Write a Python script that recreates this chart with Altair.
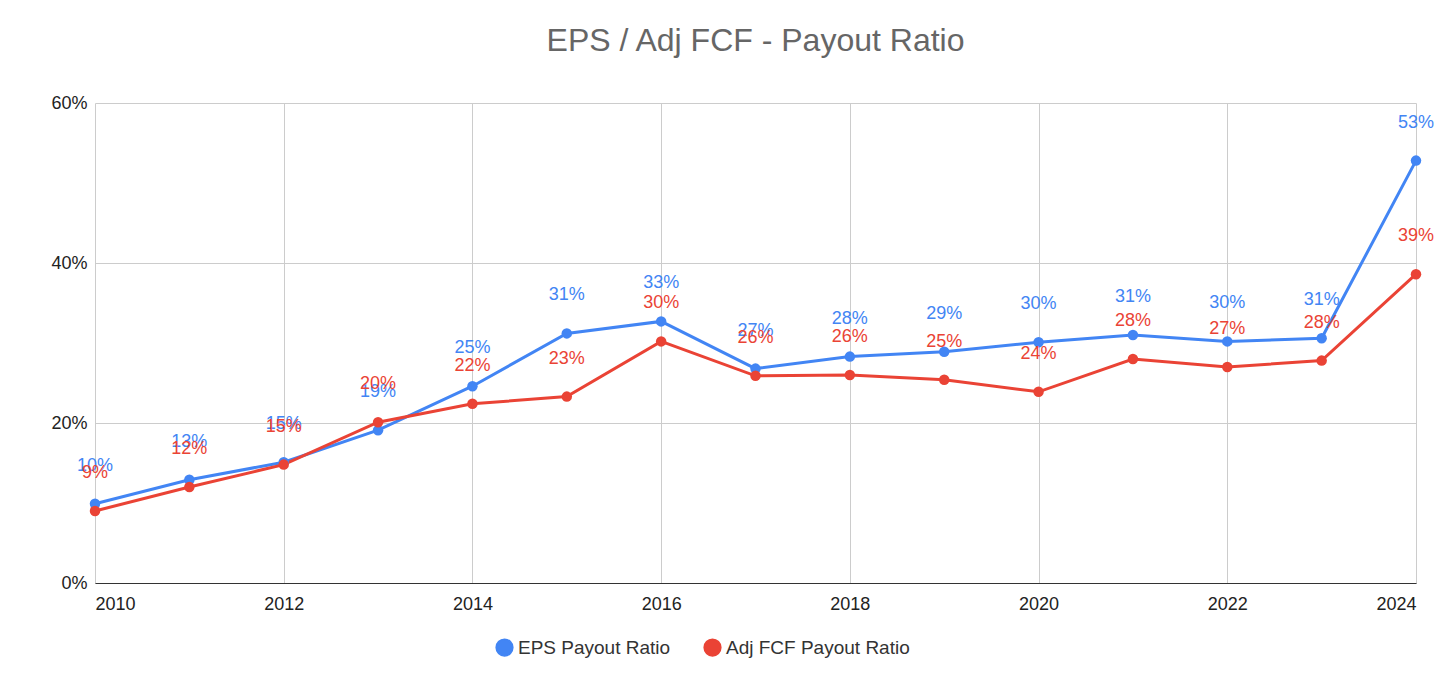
import altair as alt
import pandas as pd

years = list(range(2010, 2025))
eps = [9.9, 12.9, 15.1, 19.1, 24.6, 31.2, 32.7, 26.8, 28.3, 28.9, 30.1, 31.0, 30.2, 30.6, 52.8]
fcf = [9.0, 12.0, 14.8, 20.1, 22.4, 23.3, 30.2, 25.9, 26.0, 25.4, 23.9, 28.0, 27.0, 27.8, 38.6]
series = ['EPS Payout Ratio', 'Adj FCF Payout Ratio']
colors = ['#4285F4', '#EA4335']

df = pd.concat([
    pd.DataFrame({'Year': years, 'Value': [v / 100 for v in eps], 'Series': series[0]}),
    pd.DataFrame({'Year': years, 'Value': [v / 100 for v in fcf], 'Series': series[1]}),
])

x = alt.X('Year:Q', scale=alt.Scale(domain=[2010, 2024], nice=False),
          axis=alt.Axis(values=list(range(2010, 2025, 2)), format='d', title=None,
                        domainColor='#333', tickSize=0, labelPadding=12, gridColor='#ccc'))
y = alt.Y('Value:Q', scale=alt.Scale(domain=[0, 0.6], nice=False),
          axis=alt.Axis(values=[0, 0.2, 0.4, 0.6], format='.0%', title=None, domain=False,
                        tickSize=0, labelPadding=8, gridColor='#ccc'))
color = alt.Color('Series:N', scale=alt.Scale(domain=series, range=colors),
                  legend=alt.Legend(orient='none', legendX=400, legendY=535,
                                    direction='horizontal', title=None, symbolType='circle',
                                    symbolSize=280, labelFontSize=19, columnPadding=30,
                                    labelLimit=0, labelColor='#333'))

base = alt.Chart(df).encode(x=x, y=y, color=color)
lines = base.mark_line(strokeWidth=3)
points = base.mark_point(filled=True, size=110, opacity=1)
labels = base.mark_text(dy=-38, fontSize=18).encode(
    text=alt.Text('Value:Q', format='.0%'))

chart = (lines + points + labels).properties(
    width=1321, height=480,
    autosize=alt.AutoSizeParams(type='none'),
    padding={'left': 87, 'top': 95, 'right': 32, 'bottom': 103},
    title=alt.TitleParams('EPS / Adj FCF - Payout Ratio', fontSize=32, fontWeight='normal',
                          color='#666', offset=36, anchor='middle'),
).configure(font='Liberation Sans').configure_axis(
    labelFontSize=18, labelColor='#222'
).configure_view(stroke=None)

chart.save("out.html", embed_options={"renderer": "svg", "actions": False})
